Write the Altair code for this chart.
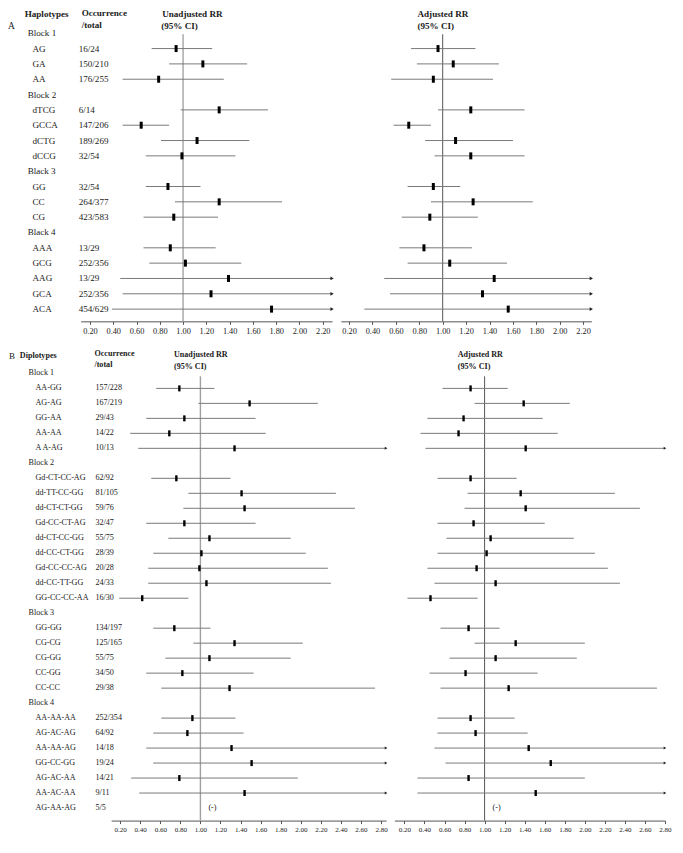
import altair as alt
import pandas as pd

# ---------------- Panel A : haplotypes ----------------
blocksA = ["Block 1", "Block 2", "Black 3", "Black 4"]
namesA = [["AG", "GA", "AA"],
          ["dTCG", "GCCA", "dCTG", "dCCG"],
          ["GG", "CC", "CG"],
          ["AAA", "GCG", "AAG", "GCA", "ACA"]]
occA = ["16/24", "150/210", "176/255", "6/14", "147/206", "189/269", "32/54",
        "32/54", "264/377", "423/583", "13/29", "252/356", "13/29", "252/356", "454/629"]
uA_est = [0.94, 1.17, 0.79, 1.31, 0.64, 1.12, 0.99, 0.87, 1.31, 0.92, 0.89, 1.02, 1.39, 1.24, 1.76]
uA_lo = [0.73, 0.88, 0.48, 0.98, 0.48, 0.81, 0.68, 0.68, 0.93, 0.66, 0.66, 0.71, 0.46, 0.48, 0.39]
uA_hi = [1.25, 1.55, 1.35, 1.73, 0.88, 1.57, 1.45, 1.15, 1.85, 1.30, 1.28, 1.50, None, None, None]
aA_est = [0.96, 1.09, 0.92, 1.24, 0.71, 1.11, 1.24, 0.92, 1.26, 0.89, 0.84, 1.06, 1.44, 1.34, 1.56]
aA_lo = [0.73, 0.78, 0.56, 0.96, 0.58, 0.85, 0.93, 0.70, 0.90, 0.65, 0.63, 0.70, 0.50, 0.55, 0.33]
aA_hi = [1.28, 1.48, 1.43, 1.70, 0.90, 1.60, 1.70, 1.15, 1.77, 1.30, 1.25, 1.55, None, None, None]
ticksA = [0.2, 0.4, 0.6, 0.8, 1.0, 1.2, 1.4, 1.6, 1.8, 2.0, 2.2]

# ---------------- Panel B : diplotypes ----------------
blocksB = ["Block 1", "Block 2", "Block 3", "Block 4"]
namesB = [["AA-GG", "AG-AG", "GG-AA", "AA-AA", "A A-AG"],
          ["Gd-CT-CC-AG", "dd-TT-CC-GG", "dd-CT-CT-GG", "Gd-CC-CT-AG", "dd-CT-CC-GG",
           "dd-CC-CT-GG", "Gd-CC-CC-AG", "dd-CC-TT-GG", "GG-CC-CC-AA"],
          ["GG-GG", "CG-CG", "CG-GG", "CC-GG", "CC-CC"],
          ["AA-AA-AA", "AG-AC-AG", "AA-AA-AG", "GG-CC-GG", "AG-AC-AA", "AA-AC-AA", "AG-AA-AG"]]
occB = ["157/228", "167/219", "29/43", "14/22", "10/13",
        "62/92", "81/105", "59/76", "32/47", "55/75", "28/39", "20/28", "24/33", "16/30",
        "134/197", "125/165", "55/75", "34/50", "29/38",
        "252/354", "64/92", "14/18", "19/24", "14/21", "9/11", "5/5"]
uB_est = [0.79, 1.49, 0.84, 0.69, 1.34,
          0.76, 1.41, 1.44, 0.84, 1.09, 1.01, 0.99, 1.06, 0.42,
          0.74, 1.34, 1.09, 0.82, 1.29,
          0.92, 0.87, 1.31, 1.51, 0.79, 1.44, None]
uB_lo = [0.56, 0.98, 0.46, 0.30, 0.38,
         0.51, 0.88, 0.83, 0.46, 0.68, 0.53, 0.48, 0.48, 0.19,
         0.53, 0.93, 0.65, 0.46, 0.61,
         0.61, 0.53, 0.46, 0.53, 0.31, 0.39, None]
uB_hi = [1.14, 2.17, 1.55, 1.65, None,
         1.30, 2.35, 2.54, 1.55, 1.90, 2.05, 2.27, 2.30, 0.88,
         1.10, 2.02, 1.90, 1.53, 2.74,
         1.35, 1.43, None, None, 1.97, None, None]
aB_est = [0.86, 1.39, 0.79, 0.74, 1.41,
          0.86, 1.36, 1.41, 0.89, 1.06, 1.02, 0.92, 1.11, 0.46,
          0.84, 1.31, 1.11, 0.81, 1.24,
          0.86, 0.91, 1.44, 1.66, 0.84, 1.51, None]
aB_lo = [0.58, 0.90, 0.43, 0.36, 0.41,
         0.53, 0.83, 0.80, 0.53, 0.62, 0.53, 0.43, 0.50, 0.23,
         0.56, 0.90, 0.65, 0.45, 0.56,
         0.53, 0.53, 0.50, 0.61, 0.33, 0.33, None]
aB_hi = [1.23, 1.85, 1.58, 1.73, None,
         1.32, 2.30, 2.55, 1.60, 1.89, 2.10, 2.23, 2.35, 0.93,
         1.15, 2.00, 1.92, 1.53, 2.72,
         1.30, 1.43, None, None, 2.00, None, None]
ticksB = [0.2, 0.4, 0.6, 0.8, 1.0, 1.2, 1.4, 1.6, 1.8, 2.0, 2.2, 2.4, 2.6, 2.8]
NA_TEXT = "(-)"
NA_AT = 1.12

FONT = "Liberation Serif"
SX, SY = 0.982, 0.97


def px(x):
    return (x - 3) * SX


def build(blocks, names, occ, ulo, uest, uhi, alo, aest, ahi, umax, amax):
    rows = []
    r = 0
    k = 0
    for b, its in zip(blocks, names):
        rows.append(dict(row=r, kind="block", label=b))
        r += 1
        for it in its:
            d = dict(row=r, kind="item", label=it, occ=occ[k])
            has = uest[k] is not None
            d["na"] = not has
            if has:
                d.update(ulo=ulo[k], uest=uest[k], alo=alo[k], aest=aest[k])
                d["uarrow"] = uhi[k] is None
                d["aarrow"] = ahi[k] is None
                d["uhi"] = umax if uhi[k] is None else uhi[k]
                d["ahi"] = amax if ahi[k] is None else ahi[k]
            else:
                d["uarrow"] = False
                d["aarrow"] = False
            rows.append(d)
            k += 1
            r += 1
    return pd.DataFrame(rows)


def one():
    return alt.Data(values=[{}])


def side(df, prefix, scale, ticks, axfs, vcol, vw, vtop, H, yenc, tk_th, tk_sz, arr_sz, fs):
    ax = alt.Axis(values=ticks, format=".2f", orient="bottom", grid=False, title=None,
                  labelFont=FONT, labelFontSize=axfs, labelColor="#222",
                  domainColor="#555", tickColor="#555", tickSize=3, labelPadding=2,
                  labelFlush=False, labelOverlap=False)
    X = lambda f: alt.X(f, type="quantitative", scale=scale, axis=ax)
    base = alt.Chart(df)
    valid = f"isValid(datum.{prefix}est)"
    vline = alt.Chart(one()).mark_rule(color=vcol, strokeWidth=vw).encode(
        x=alt.datum(1.0), y=alt.value(vtop), y2=alt.value(H))
    ci = base.transform_filter(valid).mark_rule(color="#7a7a7a", strokeWidth=1).encode(
        x=X(f"{prefix}lo"), x2=alt.X2(f"{prefix}hi"), y=yenc)
    est = base.transform_filter(valid).mark_tick(
        orient="vertical", thickness=tk_th, size=tk_sz, color="black", opacity=1).encode(
        x=X(f"{prefix}est"), y=yenc)
    arr = base.transform_filter(f"datum.{prefix}arrow").mark_point(
        shape="triangle-right", filled=True, size=arr_sz, color="#222", opacity=1).encode(
        x=X(f"{prefix}hi"), y=yenc)
    na = base.transform_filter("datum.na").mark_text(
        text=NA_TEXT, font=FONT, fontSize=fs, color="#222").encode(
        x=alt.datum(NA_AT), y=yenc)
    return alt.layer(vline, ci, est, arr, na)


def header(text, x, y, fs, bold=True):
    return alt.Chart(one()).mark_text(
        text=text, align="left", baseline="middle", font=FONT, fontSize=fs,
        fontWeight="bold" if bold else "normal", color="#1a1a1a").encode(
        x=alt.value(x), y=alt.value(y))


def labels(df, yenc, xb, xn, xo, fs):
    base = alt.Chart(df)
    kw = dict(align="left", baseline="middle", font=FONT, fontSize=fs, color="#1a1a1a")
    b = base.transform_filter("datum.kind == 'block'").mark_text(**kw).encode(
        x=alt.value(xb), y=yenc, text="label:N")
    n = base.transform_filter("datum.kind == 'item'").mark_text(**kw).encode(
        x=alt.value(xn), y=yenc, text="label:N")
    o = base.transform_filter("datum.kind == 'item'").mark_text(**kw).encode(
        x=alt.value(xo), y=yenc, text="occ:N")
    return [b, n, o]


W = 667

# ---------- Panel A layout ----------
A_uMax, A_aMax = 2.28, 2.27
dfA = build(blocksA, namesA, occA, uA_lo, uA_est, uA_hi, aA_lo, aA_est, aA_hi, A_uMax, A_aMax)
HA = (324 - 2) * SY
pyA = lambda y: (y - 2) * SY
rA0, rA1 = (2 - 27) / 15.8, (324 - 27) / 15.8
yA = alt.Y("row:Q", scale=alt.Scale(domain=[rA0, rA1], reverse=True, nice=False, zero=False), axis=None)
sAu = alt.Scale(domain=[0.12, A_uMax], range=[px(77), px(333)], nice=False, zero=False)
sAa = alt.Scale(domain=[0.13, A_aMax], range=[px(342), px(597)], nice=False, zero=False)
fsA = 9.1
leftA = side(dfA, "u", sAu, ticksA, 8.3, "#b8b8b8", 1.8, pyA(28), HA, yA, 3, 7, 14, fsA)
rightA = side(dfA, "a", sAa, ticksA, 8.3, "#555555", 1, pyA(28), HA, yA, 3, 7, 14, fsA)
hdrA = [
    header("A", px(3), pyA(20), 9.5, bold=False),
    header("Haplotypes", px(20), pyA(7), fsA),
    header("Occurrence", px(78), pyA(6), fsA),
    header("/total", px(78), pyA(18), fsA),
    header("Unadjusted RR", px(160), pyA(7), fsA),
    header("(95% CI)", px(159), pyA(20), fsA),
    header("Adjusted RR", px(420), pyA(7), fsA),
    header("(95% CI)", px(420), pyA(20), fsA),
]
panelA = alt.layer(
    *hdrA, *labels(dfA, yA, px(23), px(28), px(75), fsA), leftA, rightA
).resolve_scale(x="independent").properties(width=W, height=HA)

# ---------- Panel B layout ----------
B_uMax, B_aMax = 2.85, 2.80
dfB = build(blocksB, namesB, occB, uB_lo, uB_est, uB_hi, aB_lo, aB_est, aB_hi, B_uMax, B_aMax)
HB = (838 - 352) * SY
pyB = lambda y: (y - 352) * SY
rB0, rB1 = (352 - 377) / 15.45, (838 - 377) / 15.45
yB = alt.Y("row:Q", scale=alt.Scale(domain=[rB0, rB1], reverse=True, nice=False, zero=False), axis=None)
sBu = alt.Scale(domain=[0.11, B_uMax], range=[px(108), px(388)], nice=False, zero=False)
sBa = alt.Scale(domain=[0.10, B_aMax], range=[px(396.5), px(672)], nice=False, zero=False)
fsB = 8.1
leftB = side(dfB, "u", sBu, ticksB, 7.0, "#a0a0a0", 1.4, pyB(380), HB, yB, 2.4, 6, 9, fsB)
rightB = side(dfB, "a", sBa, ticksB, 7.0, "#555555", 1, pyB(380), HB, yB, 2.4, 6, 9, fsB)
hdrB = [
    header("B", px(4), pyB(359), 9, bold=False),
    header("Diplotypes", px(15), pyB(359), fsB),
    header("Occurrence", px(91), pyB(357), fsB),
    header("/total", px(91), pyB(368), fsB),
    header("Unadjusted RR", px(172), pyB(358), fsB),
    header("(95% CI)", px(172), pyB(370), fsB),
    header("Adjusted RR", px(461), pyB(358), fsB),
    header("(95% CI)", px(461), pyB(370), fsB),
]
panelB = alt.layer(
    *hdrB, *labels(dfB, yB, px(24), px(31), px(92), fsB), leftB, rightB
).resolve_scale(x="independent").properties(width=W, height=HB)

chart = alt.vconcat(panelA, panelB, spacing=(352 - 324) * SY, bounds="flush").properties(
    padding=0, background="white"
).configure_view(strokeWidth=0, stroke="transparent")

chart.save("out.html", embed_options={"renderer": "svg", "actions": False})
